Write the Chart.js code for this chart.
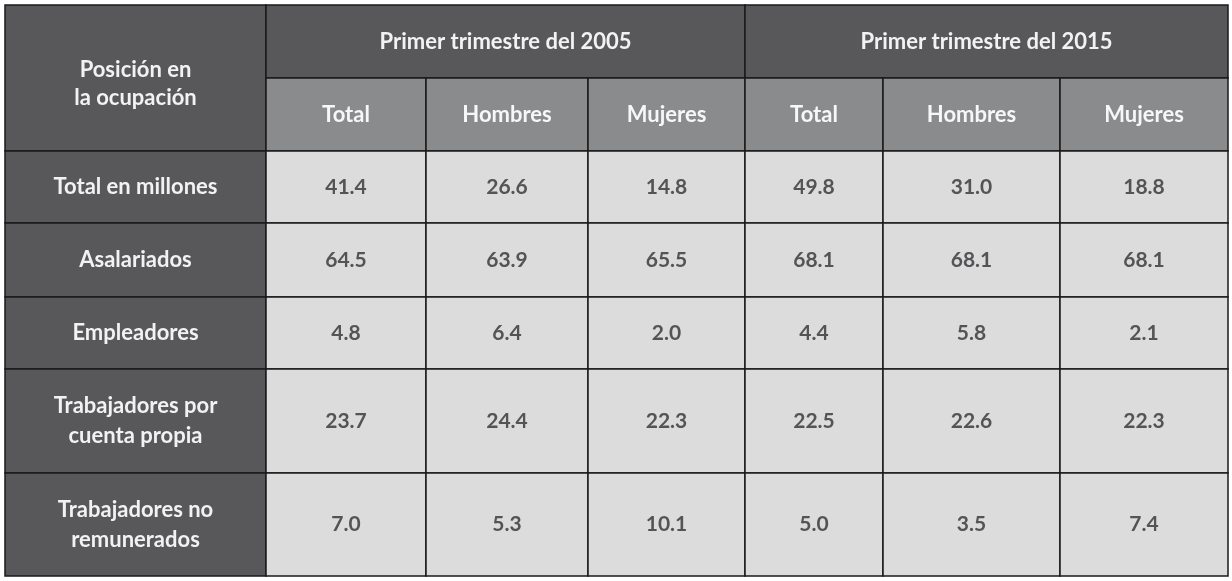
<!DOCTYPE html>
<html>
<head>
<meta charset="utf-8">
<script src="https://cdn.jsdelivr.net/npm/chart.js"></script>
<style>
  body { margin: 0; background: #fff; }
  #wrap { width: 1232px; height: 581px; }
</style>
</head>
<body>
<div id="wrap"><canvas id="tabla"></canvas></div>
<script>
// datos
const grupos = ['Primer trimestre del 2005', 'Primer trimestre del 2015'];
const subcolumnas = ['Total', 'Hombres', 'Mujeres', 'Total', 'Hombres', 'Mujeres'];
const filas = ['Total en millones', 'Asalariados', 'Empleadores', 'Trabajadores por\ncuenta propia', 'Trabajadores no\nremunerados'];
const totalMillones = [41.4, 26.6, 14.8, 49.8, 31.0, 18.8];
const asalariados = [64.5, 63.9, 65.5, 68.1, 68.1, 68.1];
const empleadores = [4.8, 6.4, 2.0, 4.4, 5.8, 2.1];
const cuentaPropia = [23.7, 24.4, 22.3, 22.5, 22.6, 22.3];
const noRemunerados = [7.0, 5.3, 10.1, 5.0, 3.5, 7.4];
const valores = [totalMillones, asalariados, empleadores, cuentaPropia, noRemunerados];

// bordes de la tabla (en unidades de la escala)
const bordesX = [5, 266, 426, 588, 745, 883, 1060, 1228];
const bordesY = [5, 78, 151, 223, 297, 369, 473, 576];

const fuente = 'Lato, "Open Sans", sans-serif';

const tablaPlugin = {
  id: 'tabla',
  afterDraw(chart) {
    const ctx = chart.ctx;
    const sx = chart.scales.x, sy = chart.scales.y;
    const px = v => sx.getPixelForValue(v);
    const py = v => sy.getPixelForValue(v);

    function celda(x0, x1, y0, y1, fondo, texto, color, peso, tam) {
      ctx.fillStyle = fondo;
      ctx.fillRect(px(x0), py(y0), px(x1) - px(x0), py(y1) - py(y0));
      ctx.strokeStyle = '#1a1a1a';
      ctx.lineWidth = 1.5;
      ctx.strokeRect(px(x0), py(y0), px(x1) - px(x0), py(y1) - py(y0));
      let lineas = String(texto).split('\n');
      ctx.fillStyle = color;
      ctx.font = peso + ' ' + tam + 'px ' + fuente;
      ctx.textAlign = 'center';
      ctx.textBaseline = 'middle';
      let cx = (px(x0) + px(x1)) / 2;
      let cy = (py(y0) + py(y1)) / 2;
      let alto = 30;
      lineas.forEach((l, i) => {
        ctx.fillText(l, cx, cy + (i - (lineas.length - 1) / 2) * alto);
      });
    }

    // encabezado
    ctx.save();
    celda(bordesX[0], bordesX[1], bordesY[0], bordesY[2], '#58585a', '', '#f2f2f2', 'bold', 22);
    ctx.fillStyle = '#f2f2f2';
    ctx.font = 'bold 22px ' + fuente;
    ctx.textAlign = 'center';
    ctx.textBaseline = 'middle';
    ctx.fillText('Posición en', (px(bordesX[0]) + px(bordesX[1])) / 2, py(70));
    ctx.fillText('la ocupación', (px(bordesX[0]) + px(bordesX[1])) / 2, py(98));
    grupos.forEach((g, i) => {
      celda(bordesX[1 + i * 3], bordesX[4 + i * 3], bordesY[0], bordesY[1], '#58585a', g, '#f2f2f2', 'bold', 22);
    });
    subcolumnas.forEach((s, i) => {
      celda(bordesX[1 + i], bordesX[2 + i], bordesY[1], bordesY[2], '#8a8b8d', s, '#f7f7f7', 'bold', 22);
    });
    filas.forEach((f, r) => {
      celda(bordesX[0], bordesX[1], bordesY[2 + r], bordesY[3 + r], '#58585a', f, '#f2f2f2', 'bold', 22);
      valores[r].forEach((v, c) => {
        celda(bordesX[1 + c], bordesX[2 + c], bordesY[2 + r], bordesY[3 + r], '#dcdcdd', v.toFixed(1), '#545456', 'bold', 21);
      });
    });
    ctx.restore();
  }
};

new Chart(document.getElementById('tabla'), {
  type: 'scatter',
  data: { datasets: [{ data: [], pointRadius: 0 }] },
  options: {
    responsive: true,
    maintainAspectRatio: false,
    animation: false,
    layout: { padding: 0 },
    plugins: { legend: { display: false }, tooltip: { enabled: false } },
    scales: {
      x: { type: 'linear', min: 0, max: 1232, display: false },
      y: { type: 'linear', min: 0, max: 581, reverse: true, display: false }
    }
  },
  plugins: [tablaPlugin]
});
</script>
</body>
</html>
